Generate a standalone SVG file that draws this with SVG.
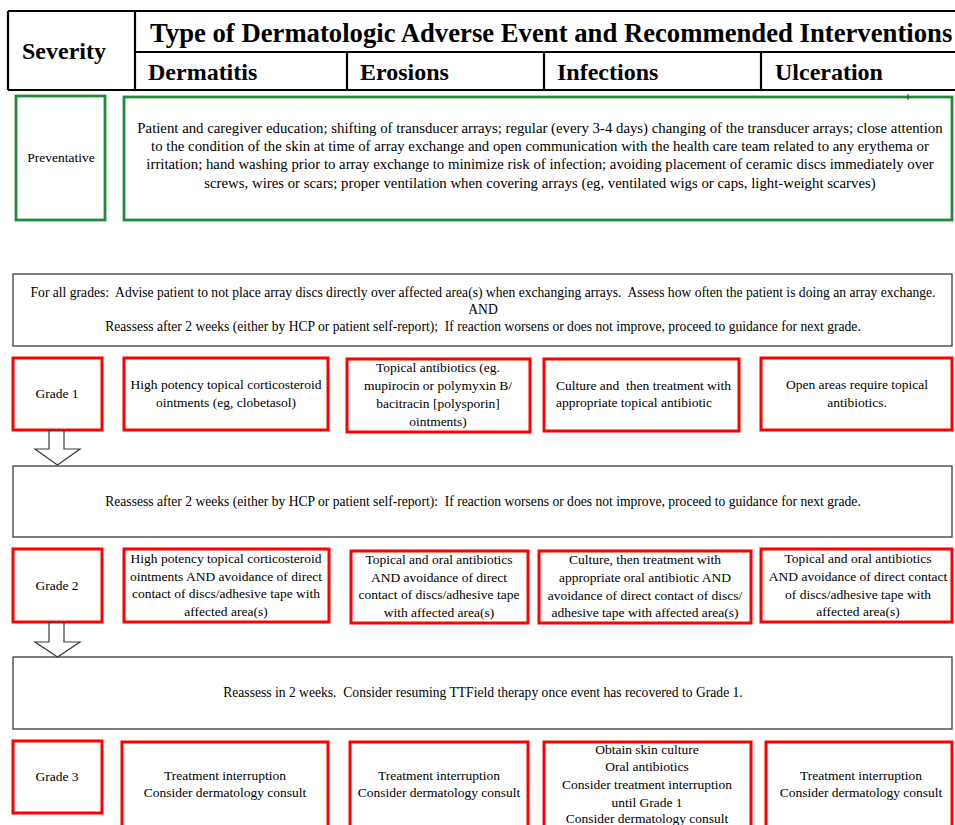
<svg xmlns="http://www.w3.org/2000/svg" width="955" height="825" viewBox="0 0 955 825">
<style>
  text { font-family: "Liberation Serif", "Times New Roman", serif; fill: #000; white-space: pre; }
  .hd { font-size: 24px; font-weight: bold; }
  .title { font-size: 26.7px; font-weight: bold; }
  .t { font-size: 13.5px; text-anchor: middle; }
  .tl { font-size: 13.5px; }
  .tp { font-size: 14.8px; text-anchor: middle; }
  .tw { font-size: 13.6px; text-anchor: middle; }
  .grid { stroke: #000; stroke-width: 2.2; fill: none; }
  .green { fill: #fff; stroke: #238a3a; stroke-width: 2.8; }
  .red { fill: #fff; stroke: #ff0000; stroke-width: 3; }
  .gray { fill: #fff; stroke: #3a3a3a; stroke-width: 1.3; }
  .arrow { fill: #fff; stroke: #3a3a3a; stroke-width: 1.2; }
</style>
<rect width="955" height="825" fill="#fff"/>

<g id="header">
  <path class="grid" d="M8 11 H955 M8 90 H955 M8 11 V90 M135 11 V90 M135 52 H955 M347 52 V90 M544 52 V90 M761 52 V90"/>
  <text class="hd" x="22" y="59">Severity</text>
  <text class="title" x="150" y="42">Type of Dermatologic Adverse Event and Recommended Interventions</text>
  <text class="hd" x="148" y="80">Dermatitis</text>
  <text class="hd" x="360" y="80">Erosions</text>
  <text class="hd" x="557" y="80">Infections</text>
  <text class="hd" x="775" y="80">Ulceration</text>
</g>

<g id="preventative-label">
  <rect class="green" x="16" y="96" width="89" height="124"/>
  <text class="t" x="61" y="162">Preventative</text>
</g>
<g id="preventative-text">
  <rect class="green" x="124" y="97" width="828" height="123"/>
  <line x1="908" y1="94" x2="908" y2="100" stroke="#333" stroke-width="1"/>
  <text class="tp" x="540" y="133">Patient and caregiver education; shifting of transducer arrays; regular (every 3-4 days) changing of the transducer arrays; close attention</text>
  <text class="tp" x="540" y="151">to the condition of the skin at time of array exchange and open communication with the health care team related to any erythema or</text>
  <text class="tp" x="540" y="169">irritation; hand washing prior to array exchange to minimize risk of infection; avoiding placement of ceramic discs immediately over</text>
  <text class="tp" x="540" y="188">screws, wires or scars; proper ventilation when covering arrays (eg, ventilated wigs or caps, light-weight scarves)</text>
</g>

<g id="all-grades">
  <rect class="gray" x="13" y="274" width="939" height="72"/>
  <text class="tw" x="483" y="297">For all grades:  Advise patient to not place array discs directly over affected area(s) when exchanging arrays.  Assess how often the patient is doing an array exchange.</text>
  <text class="tw" x="483" y="314">AND</text>
  <text class="tw" x="483" y="331">Reassess after 2 weeks (either by HCP or patient self-report);  If reaction worsens or does not improve, proceed to guidance for next grade.</text>
</g>

<g id="grade1">
  <rect class="red" x="13" y="358" width="89" height="72"/>
  <text class="t" x="57" y="398">Grade 1</text>
</g>
<g id="g1-dermatitis">
  <rect class="red" x="124" y="358" width="204" height="72"/>
  <text class="t" x="226" y="389">High potency topical corticosteroid</text>
  <text class="t" x="226" y="407">ointments (eg, clobetasol)</text>
</g>
<g id="g1-erosions">
  <rect class="red" x="347" y="359" width="183" height="73"/>
  <text class="t" x="438" y="372">Topical antibiotics (eg.</text>
  <text class="t" x="438" y="390">mupirocin or polymyxin B/</text>
  <text class="t" x="438" y="408">bacitracin [polysporin]</text>
  <text class="t" x="438" y="426">ointments)</text>
</g>
<g id="g1-infections">
  <rect class="red" x="544" y="359" width="195" height="72"/>
  <text class="tl" x="556" y="390">Culture and  then treatment with</text>
  <text class="tl" x="556" y="407">appropriate topical antibiotic</text>
</g>
<g id="g1-ulceration">
  <rect class="red" x="761" y="358" width="191" height="72"/>
  <text class="t" x="857" y="389">Open areas require topical</text>
  <text class="t" x="857" y="407">antibiotics.</text>
</g>

<g id="reassess1">
  <rect class="gray" x="13" y="466" width="939" height="71"/>
  <text class="tw" x="483" y="506">Reassess after 2 weeks (either by HCP or patient self-report):  If reaction worsens or does not improve, proceed to guidance for next grade.</text>
</g>

<g id="grade2">
  <rect class="red" x="13" y="549" width="89" height="73"/>
  <text class="t" x="57" y="590">Grade 2</text>
</g>
<g id="g2-dermatitis">
  <rect class="red" x="124" y="549" width="205" height="73"/>
  <text class="t" x="226" y="563">High potency topical corticosteroid</text>
  <text class="t" x="226" y="581">ointments AND avoidance of direct</text>
  <text class="t" x="226" y="598">contact of discs/adhesive tape with</text>
  <text class="t" x="226" y="616">affected area(s)</text>
</g>
<g id="g2-erosions">
  <rect class="red" x="351" y="551" width="177" height="72"/>
  <text class="t" x="439" y="564">Topical and oral antibiotics</text>
  <text class="t" x="439" y="582">AND avoidance of direct</text>
  <text class="t" x="439" y="599">contact of discs/adhesive tape</text>
  <text class="t" x="439" y="617">with affected area(s)</text>
</g>
<g id="g2-infections">
  <rect class="red" x="539" y="551" width="212" height="72"/>
  <text class="t" x="645" y="564">Culture, then treatment with</text>
  <text class="t" x="645" y="582">appropriate oral antibiotic AND</text>
  <text class="t" x="645" y="600">avoidance of direct contact of discs/</text>
  <text class="t" x="645" y="617">adhesive tape with affected area(s)</text>
</g>
<g id="g2-ulceration">
  <rect class="red" x="761" y="549" width="191" height="73"/>
  <text class="t" x="858" y="563">Topical and oral antibiotics</text>
  <text class="t" x="858" y="581">AND avoidance of direct contact</text>
  <text class="t" x="858" y="599">of discs/adhesive tape with</text>
  <text class="t" x="858" y="616">affected area(s)</text>
</g>

<g id="reassess2">
  <rect class="gray" x="13" y="657" width="939" height="72"/>
  <text class="tw" x="483" y="697">Reassess in 2 weeks.  Consider resuming TTField therapy once event has recovered to Grade 1.</text>
</g>

<g id="grade3">
  <rect class="red" x="13" y="741" width="89" height="72"/>
  <text class="t" x="57" y="781">Grade 3</text>
</g>
<g id="g3-dermatitis">
  <rect class="red" x="122" y="742" width="206" height="100"/>
  <text class="t" x="225" y="780">Treatment interruption</text>
  <text class="t" x="225" y="797">Consider dermatology consult</text>
</g>
<g id="g3-erosions">
  <rect class="red" x="350" y="742" width="178" height="100"/>
  <text class="t" x="439" y="780">Treatment interruption</text>
  <text class="t" x="439" y="797">Consider dermatology consult</text>
</g>
<g id="g3-infections">
  <rect class="red" x="544" y="742" width="207" height="100"/>
  <text class="t" x="647" y="754">Obtain skin culture</text>
  <text class="t" x="647" y="771">Oral antibiotics</text>
  <text class="t" x="647" y="789">Consider treatment interruption</text>
  <text class="t" x="647" y="807">until Grade 1</text>
  <text class="t" x="647" y="823">Consider dermatology consult</text>
</g>
<g id="g3-ulceration">
  <rect class="red" x="766" y="742" width="186" height="100"/>
  <text class="t" x="861" y="780">Treatment interruption</text>
  <text class="t" x="861" y="797">Consider dermatology consult</text>
</g>

<g id="connectors">
  <path class="arrow" d="M49 431 H64 V449 H80 L57.5 465 L35 449 H49 Z"/>
  <path class="arrow" d="M49 623 H64 V642 H80 L57.5 657 L35 642 H49 Z"/>
</g>
</svg>
